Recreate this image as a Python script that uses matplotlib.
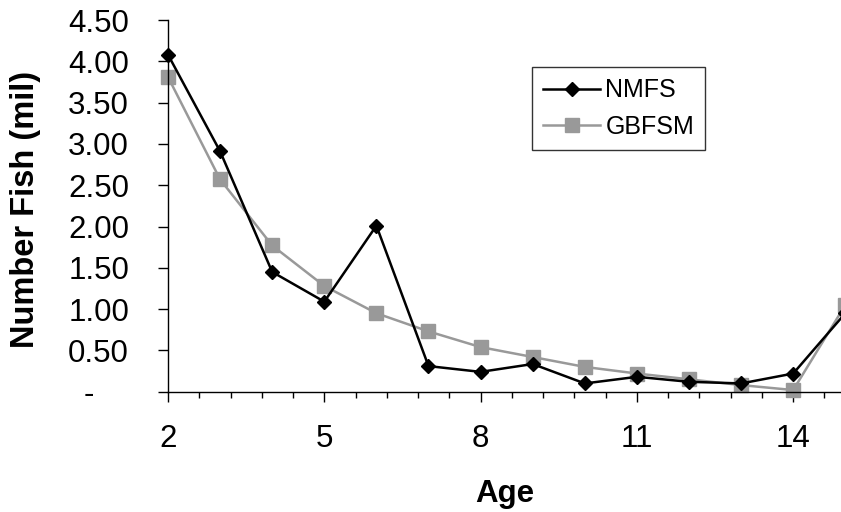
import matplotlib.pyplot as plt
import matplotlib.ticker as mticker
import numpy as np

plt.rcParams['font.family'] = ['Liberation Sans', 'DejaVu Sans']

ages = [2, 3, 4, 5, 6, 7, 8, 9, 10, 11, 12, 13, 14, 15]
nmfs = [4.08, 2.91, 1.45, 1.09, 2.01, 0.31, 0.24, 0.335, 0.10, 0.18, 0.12, 0.10, 0.22, 0.95]
gbfsm = [3.81, 2.57, 1.77, 1.28, 0.95, 0.73, 0.54, 0.42, 0.30, 0.22, 0.15, 0.08, 0.02, 1.05]

W, H = 841, 512
fig = plt.figure(figsize=(W / 100, H / 100), dpi=100)

# axes run past the right edge of the figure, like the original export
x0, x1 = 2, 15.6
px_per_age = 52.1
left, top, bottom = 168, 20, 391.7
ax_w = (x1 - x0) * px_per_age
ax = fig.add_axes([left / W, (H - bottom) / H, ax_w / W, (bottom - top) / H])

ax.plot(ages, gbfsm, color='#999999', lw=1.8, marker='s', ms=9.5,
        mec='#999999', mfc='#999999', label='GBFSM', clip_on=False, zorder=2)
ax.plot(ages, nmfs, color='black', lw=1.8, marker='D', ms=7,
        mec='black', mfc='black', label='NMFS', clip_on=False, zorder=3)

ax.set_xlim(x0, x1)
ax.set_ylim(0, 4.5)

ax.xaxis.set_major_locator(mticker.FixedLocator([2, 5, 8, 11, 14]))
ax.xaxis.set_minor_locator(mticker.FixedLocator(np.arange(2, 15.7, 0.6)))
ax.yaxis.set_major_locator(mticker.MultipleLocator(0.5))
ax.yaxis.set_major_formatter(
    mticker.FuncFormatter(lambda v, p: '-    ' if abs(v) < 1e-9 else f'{v:.2f}'))

for s in ['top', 'right']:
    ax.spines[s].set_visible(False)
for s in ['left', 'bottom']:
    ax.spines[s].set_linewidth(1.0)

ax.tick_params(axis='y', which='major', direction='out', length=7, width=1,
               pad=21, labelsize=22.5)
ax.tick_params(axis='x', which='major', direction='out', length=7, width=1,
               pad=16, labelsize=22.5)
ax.tick_params(axis='x', which='minor', direction='out', length=4.5, width=1)

ax.set_xlabel('Age', fontsize=22.5, fontweight='bold')
ax.xaxis.set_label_coords((505 - left) / ax_w, -0.235)
ax.set_ylabel('Number Fish (mil)', fontsize=23.5, fontweight='bold')
ax.yaxis.set_label_coords((41 - left) / ax_w, 0.49)

handles, labels = ax.get_legend_handles_labels()
leg = ax.legend(handles[::-1], labels[::-1], loc='upper left',
                bbox_to_anchor=(531.7 / W, 1 - 67 / H),
                bbox_transform=fig.transFigure, fontsize=18, frameon=True,
                fancybox=False, edgecolor='black', handlelength=2.3,
                borderpad=0.45, labelspacing=0.5, handletextpad=0.2,
                borderaxespad=0)
leg.get_frame().set_linewidth(1.0)

fig.savefig('out.png', dpi=100)
